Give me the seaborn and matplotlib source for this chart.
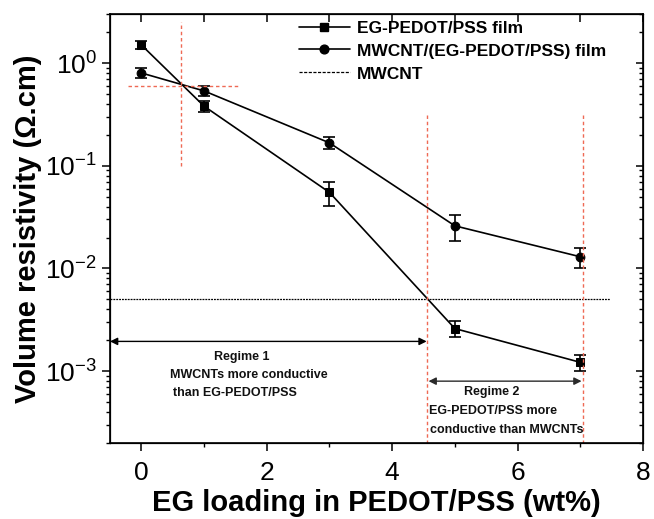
import numpy as np
import pandas as pd
import matplotlib
matplotlib.use("Agg")
import matplotlib.pyplot as plt
from matplotlib.lines import Line2D
import seaborn as sns

# data
eg_loading = [0, 1, 3, 5, 7]
pedot_rho = [1.5, 0.38, 0.055, 2.6e-3, 1.22e-3]
pedot_err = [0.12, 0.045, 0.014, 4.5e-4, 2.2e-4]
composite_rho = [0.80, 0.535, 0.167, 0.026, 0.013]
composite_err = [0.09, 0.06, 0.022, 0.0075, 0.003]
mwcnt_rho = 5.1e-3

series_names = ["EG-PEDOT/PSS film", "MWCNT/(EG-PEDOT/PSS) film", "MWCNT"]

sns.set_style("ticks")
plt.rcParams["font.family"] = ["Liberation Sans", "DejaVu Sans"]
plt.rcParams["mathtext.fontset"] = "custom"
plt.rcParams["mathtext.rm"] = "Liberation Sans"
plt.rcParams["mathtext.it"] = "Liberation Sans:italic"
plt.rcParams["mathtext.bf"] = "Liberation Sans:bold"
plt.rcParams["axes.unicode_minus"] = False
for k in ["text.color", "axes.labelcolor", "xtick.color", "ytick.color",
          "axes.edgecolor"]:
    plt.rcParams[k] = "black"

df = pd.DataFrame({
    "EG": eg_loading * 2,
    "rho": pedot_rho + composite_rho,
    "film": [series_names[0]] * 5 + [series_names[1]] * 5,
})

fig = plt.figure(figsize=(6.54, 5.19), dpi=100)
ax = fig.add_axes([110 / 654, 76 / 519, 533 / 654, 429 / 519])

sns.lineplot(data=df, x="EG", y="rho", hue="film", style="film",
             markers=["s", "o"], dashes=False, palette=["k", "k"],
             markersize=6.3, markeredgecolor="k", linewidth=1.2,
             legend=False, ax=ax)
ax.errorbar(eg_loading, pedot_rho, yerr=pedot_err, fmt="none", ecolor="k",
            elinewidth=1.2, capsize=4, capthick=1.2)
ax.errorbar(eg_loading, composite_rho, yerr=composite_err, fmt="none", ecolor="k",
            elinewidth=1.2, capsize=4, capthick=1.2)

ax.set_yscale("log")
xlim = (-0.5, 8)
ylim = (2e-4, 3)
ax.set_xlim(*xlim)
ax.set_ylim(*ylim)

# MWCNT reference level
ax.plot([-0.5, 7.47], [mwcnt_rho, mwcnt_rho], color="k", lw=0.9,
        ls=(0, (1.5, 0.8)))

# red guide lines
red = "#ef6a55"
rls = (0, (2.5, 2))
ax.plot([0.64, 0.64], [0.1, 2.5], color=red, lw=1, ls=rls)
ax.plot([-0.22, 1.55], [0.6, 0.6], color=red, lw=1, ls=rls)
ax.plot([4.55, 4.55], [0.31, ylim[0]], color=red, lw=1, ls=rls)
ax.plot([7.04, 7.04], [0.31, ylim[0]], color=red, lw=1, ls=rls)

# regime arrows
ax.annotate("", xy=(-0.5, 1.95e-3), xytext=(4.55, 1.95e-3),
            arrowprops=dict(arrowstyle="<|-|>", color="k", lw=1,
                            mutation_scale=11, shrinkA=0, shrinkB=0))
ax.annotate("", xy=(4.58, 8.0e-4), xytext=(7.02, 8.0e-4),
            arrowprops=dict(arrowstyle="<|-|>", color="#2a2a2a", lw=1,
                            mutation_scale=11, shrinkA=0, shrinkB=0))

tkw = dict(fontsize=9, fontweight="bold", color="#111111")
ax.text(1.6, 1.37e-3, "Regime 1", ha="center", va="center", **tkw)
ax.text(0.45, 9.2e-4, "MWCNTs more conductive", ha="left", va="center", **tkw)
ax.text(0.5, 6.2e-4, "than EG-PEDOT/PSS", ha="left", va="center", **tkw)
ax.text(5.58, 6.3e-4, "Regime 2", ha="center", va="center", **tkw)
ax.text(4.58, 4.1e-4, "EG-PEDOT/PSS more", ha="left", va="center", **tkw)
ax.text(4.6, 2.65e-4, "conductive than MWCNTs", ha="left", va="center", **tkw)

# axes styling
ax.set_xticks([0, 2, 4, 6, 8])
ax.set_xticks([1, 3, 5, 7], minor=True)
ax.tick_params(axis="both", which="major", direction="out", length=6,
               width=1.1, labelsize=19)
ax.tick_params(axis="both", which="minor", direction="out", length=3,
               width=1.0)
ax.tick_params(axis="x", which="major", pad=7)
for s in ax.spines.values():
    s.set_linewidth(1.2)

tx = ax.twiny()
tx.set_xlim(*xlim)
tx.set_xticks(np.arange(0, 9, 1))
tx.tick_params(direction="in", length=6, width=1.1, labeltop=False)
ty = ax.twinx()
ty.set_yscale("log")
ty.set_ylim(*ylim)
ty.tick_params(which="major", direction="in", length=5, width=1.1, labelright=False)
ty.tick_params(which="minor", direction="in", length=3, width=1.0, labelright=False)

ax.set_xlabel("EG loading in PEDOT/PSS (wt%)", fontsize=21, fontweight="bold",
              labelpad=3)
ax.set_ylabel("Volume resistivity (\u03a9.cm)", fontsize=21, fontweight="bold",
              labelpad=2)

handles = [
    Line2D([], [], color="k", lw=1.2, marker="s", ms=6.3),
    Line2D([], [], color="k", lw=1.2, marker="o", ms=6.3),
    Line2D([], [], color="k", lw=0.9, ls=(0, (2.5, 1.2))),
]
leg = ax.legend(handles, series_names, loc="upper left",
                bbox_to_anchor=(0.355, 0.985), frameon=False,
                prop=dict(weight="bold", size=12.5), handlelength=2.9,
                handletextpad=0.4, labelspacing=0.45, borderpad=0,
                borderaxespad=0)

fig.savefig("out.png", dpi=100)
